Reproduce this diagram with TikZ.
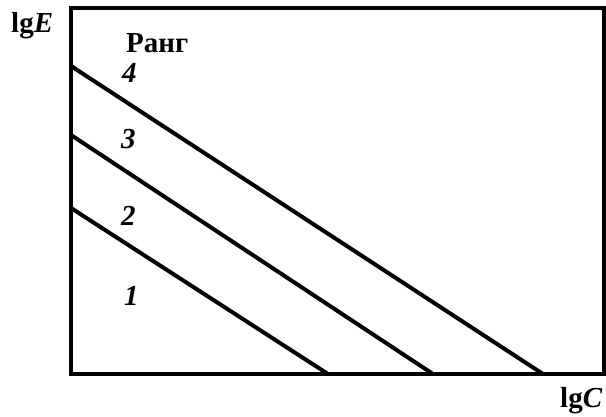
\documentclass[tikz,border=0pt]{standalone}
\usepackage{fontspec}
\setmainfont{Liberation Serif}
\begin{document}
\begin{tikzpicture}[x=1pt,y=-1pt,
  frame/.style={line width=4pt},
  rang/.style={line width=4pt},
  lbl/.style={font=\fontsize{29}{31}\selectfont\bfseries, inner sep=0pt, anchor=base west},
  num/.style={font=\fontsize{29}{31}\selectfont\itshape\bfseries, inner sep=0pt, anchor=base west}]
\useasboundingbox (0,0) rectangle (606,416);
\coordinate (tl) at (71,8);
\coordinate (br) at (604,374);
\draw[frame] (tl) rectangle (br);
\coordinate (a4) at (71,66);  \coordinate (b4) at (543,374);
\coordinate (a3) at (71,135); \coordinate (b3) at (433,374);
\coordinate (a2) at (71,208); \coordinate (b2) at (328,374);
\draw[rang] (a4) -- (b4);
\draw[rang] (a3) -- (b3);
\draw[rang] (a2) -- (b2);
\node[lbl] (rang) at (126,52) {Ранг};
\node[num] (n4) at (122,82) {4};
\node[num] (n3) at (121,148) {3};
\node[num] (n2) at (121,225) {2};
\node[num] (n1) at (124,305) {1};
\node[lbl] (ylab) at (11,32) {lg\textit{E}};
\node[lbl] (xlab) at (560,407) {lg\textit{C}};
\end{tikzpicture}
\end{document}
